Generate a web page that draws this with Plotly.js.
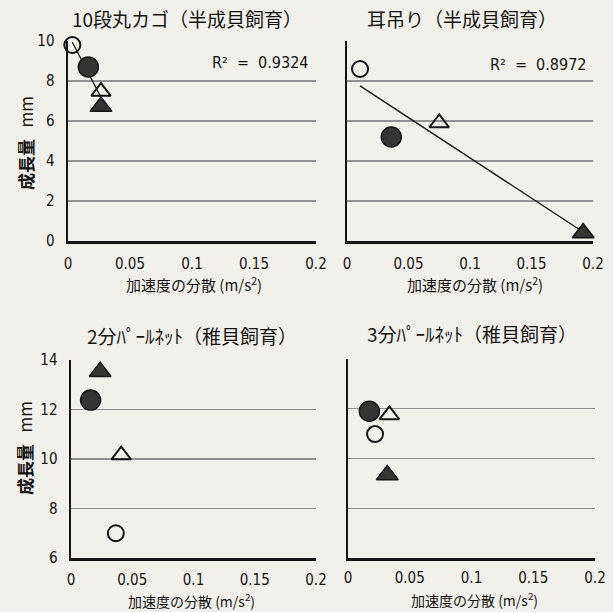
<!DOCTYPE html>
<html>
<head>
<meta charset="utf-8">
<script src="https://cdn.plot.ly/plotly-3.0.1.min.js"></script>
<style>html,body{margin:0;padding:0;background:#f1f0ea;}#chart{width:613px;height:612px;}</style>
</head>
<body>
<div id="chart"></div>
<script>
// ---- data ----
const panelTitles = ['10段丸カゴ（半成貝飼育）', '耳吊り（半成貝飼育）', '2分ﾊﾟｰﾙﾈｯﾄ（稚貝飼育）', '3分ﾊﾟｰﾙﾈｯﾄ（稚貝飼育）'];
const r2Labels = ['R²  =  0.9324', 'R²  =  0.8972', '', ''];
const xTickVals = [0, 0.05, 0.1, 0.15, 0.2];
const xTickText = ['0', '0.05', '0.1', '0.15', '0.2'];
const yTicksTop = [0, 2, 4, 6, 8, 10];
const yTicksBottom = [6, 8, 10, 12, 14];
const xTitle = '加速度の分散 (m/s<sup>2</sup>)';
const yTitle = '<b>成長量</b>   mm';

// marker groups: open circle, filled circle, open triangle, filled triangle
const openCircleX = [0.0035, 0.0106, 0.0366, 0.0219];
const openCircleY = [9.8, 8.6, 7.0, 10.98];
const filledCircleX = [0.0164, 0.036, 0.016, 0.0173];
const filledCircleY = [8.7, 5.2, 12.38, 11.9];
const openTriX = [0.0266, 0.075, 0.041, 0.0335];
const openTriY = [7.47, 5.9, 10.16, 11.75];
const filledTriX = [0.0266, 0.192, 0.0238, 0.0318];
const filledTriY = [6.72, 0.4, 13.53, 9.34];
const showTrend = [true, true, false, false];

// ---- layout geometry ----
const W = 613, H = 612;
const boxes = [
  {l: 68, r: 316, t: 41, b: 241},
  {l: 347, r: 593, t: 41, b: 241},
  {l: 71, r: 316, t: 360, b: 558},
  {l: 348, r: 595, t: 359, b: 558}
];
const yRanges = [[0, 10], [0, 10], [6, 14], [6, 14]];
const xStandoff = [7, 7, 6, 4];
const ink = '#151515';
const fillDark = '#353535';
const numFont = {family: '"DejaVu Sans Condensed", "Liberation Sans Narrow", "Liberation Sans", sans-serif', size: 15, color: ink};
const jpFont = {family: '"Noto Sans CJK JP", sans-serif', size: 19, color: ink};

const traces = [];
const layout = {
  width: W, height: H,
  margin: {l: 0, r: 0, t: 0, b: 0},
  paper_bgcolor: '#f1f0ea',
  plot_bgcolor: 'rgba(0,0,0,0)',
  showlegend: false,
  annotations: []
};

function linfit(xs, ys) {
  const n = xs.length;
  const mx = xs.reduce((a, b) => a + b, 0) / n;
  const my = ys.reduce((a, b) => a + b, 0) / n;
  let sxy = 0, sxx = 0;
  for (let i = 0; i < n; i++) { sxy += (xs[i] - mx) * (ys[i] - my); sxx += (xs[i] - mx) ** 2; }
  const m = sxy / sxx;
  return x => my + m * (x - mx);
}

for (let i = 0; i < 4; i++) {
  const s = i === 0 ? '' : String(i + 1);
  const xa = 'x' + s, ya = 'y' + s;
  const b = boxes[i];
  layout['xaxis' + s] = {
    domain: [b.l / W, b.r / W], anchor: ya, range: [0, 0.2],
    tickvals: xTickVals, ticktext: xTickText, ticks: '', ticklabelstandoff: xStandoff[i],
    showline: true, linecolor: ink, linewidth: 2.5, showgrid: false, zeroline: false,
    tickfont: numFont, fixedrange: true
  };
  layout['yaxis' + s] = {
    domain: [1 - b.b / H, 1 - b.t / H], anchor: xa, range: yRanges[i],
    tickvals: i < 2 ? yTicksTop : yTicksBottom, ticks: '', ticklabelstandoff: 8,
    showticklabels: (i % 2 === 0),
    showline: true, linecolor: ink, linewidth: 2.5,
    showgrid: true, gridcolor: '#929292', gridwidth: 1.3, zeroline: false,
    tickfont: numFont, fixedrange: true
  };
  const xs = [openCircleX[i], filledCircleX[i], openTriX[i], filledTriX[i]];
  const ys = [openCircleY[i], filledCircleY[i], openTriY[i], filledTriY[i]];
  if (showTrend[i]) {
    const f = linfit(xs, ys);
    const x0 = Math.min(...xs), x1 = Math.max(...xs);
    traces.push({x: [x0, x1], y: [f(x0), f(x1)], xaxis: xa, yaxis: ya, mode: 'lines',
      line: {color: ink, width: 1.3}, hoverinfo: 'skip', cliponaxis: false});
  }
  traces.push({x: [openCircleX[i]], y: [openCircleY[i]], xaxis: xa, yaxis: ya, mode: 'markers', cliponaxis: false,
    marker: {symbol: 'circle-open', size: 16, color: ink, line: {width: 2, color: ink}}});
  traces.push({x: [filledCircleX[i]], y: [filledCircleY[i]], xaxis: xa, yaxis: ya, mode: 'markers', cliponaxis: false,
    marker: {symbol: 'circle', size: 20, color: fillDark, line: {width: 1.5, color: ink}}});
  traces.push({x: [openTriX[i]], y: [openTriY[i]], xaxis: xa, yaxis: ya, mode: 'markers', cliponaxis: false,
    marker: {symbol: 'triangle-up-open', size: 17, color: ink, line: {width: 2, color: ink}}});
  traces.push({x: [filledTriX[i]], y: [filledTriY[i]], xaxis: xa, yaxis: ya, mode: 'markers', cliponaxis: false,
    marker: {symbol: 'triangle-up', size: 19, color: fillDark, line: {width: 1.5, color: ink}}});

  // panel title
  const titlePos = [[187, 18], [462, 18], [192, 335], [472, 333]][i];
  layout.annotations.push({text: panelTitles[i], xref: 'paper', yref: 'paper', x: titlePos[0] / W, y: 1 - titlePos[1] / H,
    xanchor: 'center', yanchor: 'middle', showarrow: false, font: jpFont});
  // x title
  const xtPos = [[194, 284], [475, 284], [191, 600], [474, 599]][i];
  layout.annotations.push({text: xTitle, xref: 'paper', yref: 'paper', x: xtPos[0] / W, y: 1 - xtPos[1] / H,
    xanchor: 'center', yanchor: 'middle', showarrow: false,
    font: {family: jpFont.family, size: i < 2 ? 15 : 14, color: ink}});
  // R2
  if (r2Labels[i]) {
    const rPos = [[310, 63], [588, 65]][i];
    layout.annotations.push({text: r2Labels[i], xref: 'paper', yref: 'paper', x: rPos[0] / W, y: 1 - rPos[1] / H,
      xanchor: 'right', yanchor: 'middle', showarrow: false, font: {family: numFont.family, size: 16, color: ink}});
  }
  // y title
  if (i % 2 === 0) {
    const ytY = i === 0 ? 143 : 448;
    layout.annotations.push({text: yTitle, xref: 'paper', yref: 'paper', x: 25 / W, y: 1 - ytY / H,
      xanchor: 'center', yanchor: 'middle', textangle: -90, showarrow: false,
      font: {family: jpFont.family, size: 17, color: ink}});
  }
}

Plotly.newPlot('chart', traces, layout, {staticPlot: true, displayModeBar: false});
</script>
</body>
</html>
